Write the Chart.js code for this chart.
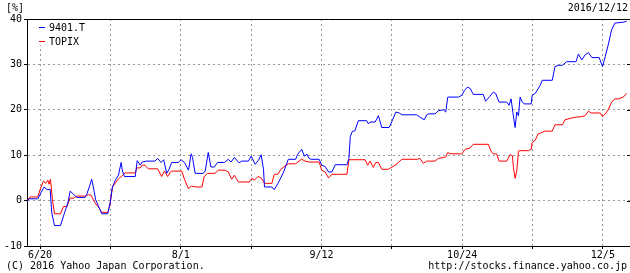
<!DOCTYPE html>
<html><head><meta charset="utf-8">
<script src="https://cdn.jsdelivr.net/npm/chart.js@4.4.0/dist/chart.umd.min.js"></script>
<style>
html,body{margin:0;padding:0;background:#fff;}
#wrap{position:relative;width:630px;height:273px;overflow:hidden;font-family:"DejaVu Sans Mono",monospace;font-size:10px;color:#000;}
canvas{position:absolute;left:0;top:0;}
.t{position:absolute;line-height:10px;white-space:pre;}
.box{position:absolute;left:28px;top:20px;width:60px;height:25px;background:#fff;}
.dash{position:absolute;width:6px;height:1px;}
</style></head><body>
<div id="wrap">
<canvas id="c" width="630" height="273"></canvas>
<div class="t" style="left:6px;top:3px">[%]</div>
<div class="t" style="right:2px;top:3px">2016/12/12</div>
<div class="box"></div>
<div class="dash" style="left:39px;top:27px;background:#0000ff"></div>
<div class="t" style="left:49px;top:23px">9401.T</div>
<div class="dash" style="left:39px;top:41px;background:#ff0000"></div>
<div class="t" style="left:49px;top:37px">TOPIX</div>
<div class="t" style="left:6px;top:261px">(C) 2016 Yahoo Japan Corporation.</div>
<div class="t" style="right:3px;top:261px">http://stocks.finance.yahoo.co.jp</div>
</div>
<script>
// x = calendar days after 2016/6/20
const tickDays = [0, 21, 42, 63, 84, 105, 126, 147, 168];
const tickLabels = ["6/20", "", "8/1", "", "9/12", "", "10/24", "", "12/5"];
const yTicks = [-10, 0, 10, 20, 30, 40];

// 9401.T (% change)
const stockDays = [
-3.7,-3.3,-0.7,1.2,2.1,3.0,3.5,4.3,6.1,7.3,
8.3,9.0,10.4,11.0,13.4,13.9,14.7,15.4,15.9,16.6,
17.9,18.4,20.2,20.9,21.6,22.6,23.4,24.2,24.6,25.2,
28.4,29.0,29.9,30.5,31.9,34.3,35.1,36.1,36.9,37.8,
38.5,39.3,41.3,42.1,43.1,44.3,45.1,45.5,46.3,48.7,
49.3,50.2,51.0,52.0,53.0,55.0,56.2,57.0,58.0,59.4,
60.2,62.2,63.0,64.2,65.2,66.0,66.7,67.0,69.2,69.9,
71.1,72.6,74.1,76.3,76.9,78.1,78.9,79.7,80.3,80.9,
83.3,84.1,85.1,86.1,87.1,88.1,91.6,92.2,92.6,93.2,
94.0,95.0,97.5,98.0,98.5,100.0,101.0,102.0,104.2,105.0,
106.2,107.2,108.0,112.4,113.4,114.7,115.4,116.0,117.9,118.9,
120.4,121.1,121.7,124.9,125.9,126.7,127.6,128.4,129.3,132.3,
133.0,134.3,135.3,136.0,137.0,139.3,140.0,140.6,141.2,141.8,
142.3,142.8,143.3,143.8,144.5,146.6,146.9,147.8,149.3,149.9,
152.9,153.7,154.7,155.9,157.2,160.0,160.7,161.7,162.7,163.7,
164.7,166.9,167.9,168.7,169.6,170.6,171.6,174.1,175.1];
const stockPct = [
0.0,0.4,0.4,3.0,2.4,2.5,-2.7,-5.5,-5.5,-2.7,
-0.5,2.1,1.1,0.7,0.7,1.3,3.0,4.7,3.0,0.2,
-2.0,-2.9,-2.9,-0.5,3.0,4.7,5.6,8.4,6.5,5.3,
5.3,8.8,7.8,8.5,8.7,8.7,9.3,8.4,9.0,6.0,
6.9,8.4,8.4,9.0,8.4,6.7,10.3,9.5,6.0,6.0,
6.5,10.6,7.4,7.4,8.4,8.4,9.1,8.5,9.5,8.3,
8.7,8.7,9.8,8.0,8.9,10.1,6.9,3.0,3.0,2.4,
3.9,6.1,9.1,9.1,10.2,11.3,9.8,10.2,9.3,9.1,
9.1,7.8,7.5,6.3,6.3,7.9,7.9,9.3,14.1,15.2,
15.4,17.6,17.6,16.9,17.3,17.3,18.7,16.1,16.1,17.4,
19.5,19.3,18.9,18.9,18.4,17.8,18.9,19.1,19.1,19.8,
20.0,19.5,22.8,22.8,23.2,24.3,25.0,24.7,23.4,23.4,
21.9,23.0,23.9,23.6,21.7,21.7,21.0,22.4,19.1,16.1,
19.5,18.7,22.8,21.9,21.3,21.3,23.2,23.6,25.4,26.5,
26.5,29.5,29.8,29.8,30.6,30.6,32.3,31.0,32.1,32.6,
31.5,31.5,29.5,31.7,34.3,37.6,39.1,39.3,39.5];

// TOPIX (% change)
const topixDays = [
-3.7,-3.0,-0.7,0,1.0,1.7,2.3,2.7,3.1,3.7,
4.3,6.1,7.0,8.0,9.0,9.9,11.0,13.6,14.4,15.2,
16.4,17.4,18.4,20.2,20.9,21.6,22.4,23.4,24.4,25.4,
28.4,28.9,29.9,30.5,31.3,32.3,35.1,36.3,37.1,38.1,
38.9,39.3,42.3,43.1,44.3,45.1,46.5,48.3,49.0,50.0,
51.3,52.2,53.2,55.2,56.2,57.2,58.0,59.2,62.4,63.2,
64.0,65.0,66.0,67.0,69.2,69.9,71.0,71.9,73.1,74.1,
76.3,77.3,78.1,79.1,80.3,83.3,84.1,85.1,86.1,87.1,
91.6,92.2,97.0,97.8,98.5,99.5,100.2,101.0,102.0,104.0,
106.0,107.0,108.0,112.7,113.4,114.4,115.4,116.0,117.9,118.9,
120.4,121.1,121.7,122.4,125.9,126.9,128.4,129.3,133.8,134.6,
135.3,136.3,137.0,139.3,140.3,141.0,141.3,141.8,142.3,142.8,
143.3,145.8,146.6,146.9,147.8,148.7,149.8,150.7,152.9,153.7,
155.9,156.7,158.7,160.2,161.7,162.7,163.7,164.5,167.2,167.9,
168.7,169.6,170.6,171.6,172.6,174.1,175.1];
const topixPct = [
0.2,0.8,0.8,2.4,4.3,3.8,4.5,3.6,4.7,0.2,
-2.9,-2.9,-1.3,-1.3,0.6,0.5,1.0,1.0,1.3,1.2,
-0.5,-1.4,-2.6,-2.6,-0.9,3.0,3.8,4.8,5.4,6.1,
6.1,7.2,7.2,7.8,7.8,7.0,7.0,5.3,6.5,5.3,
6.3,6.5,6.5,4.7,2.6,3.2,3.0,3.0,5.3,6.0,
6.0,6.0,6.7,6.7,6.3,4.7,5.6,4.1,4.1,4.9,
4.5,5.3,5.0,3.8,3.8,5.8,5.8,6.9,7.6,8.1,
8.1,8.7,9.1,8.7,8.5,8.5,6.7,6.3,5.0,5.8,
5.8,9.0,9.0,7.8,8.7,7.3,8.4,8.4,6.9,6.9,
7.8,8.4,9.1,9.1,9.3,8.2,8.7,8.7,8.7,9.3,
9.5,9.6,10.6,10.3,10.3,11.3,11.6,12.4,12.4,10.9,
10.3,10.3,8.7,8.7,10.1,9.9,7.3,4.9,6.5,10.9,
11.0,11.0,11.3,12.8,13.3,14.7,15.0,15.3,15.3,16.7,
16.7,17.8,18.2,18.4,18.5,18.7,19.7,19.3,19.3,18.5,
19.1,20.0,21.7,22.4,22.4,22.8,23.6];

const zip = (xs, ys) => xs.map((x, i) => ({x: x, y: ys[i]}));
const FONT = {family: "'DejaVu Sans Mono', monospace", size: 10};

const framePlugin = {
  id: 'frame',
  afterDraw(chart) {
    const {ctx, chartArea: a, scales} = chart;
    ctx.save();
    ctx.strokeStyle = '#000';
    ctx.lineWidth = 1;
    ctx.beginPath();
    ctx.moveTo(a.left, a.top + 0.5);
    ctx.lineTo(a.right, a.top + 0.5);
    scales.y.ticks.forEach(t => {
      const py = Math.round(scales.y.getPixelForValue(t.value)) + 0.5;
      ctx.moveTo(a.right - 3, py);
      ctx.lineTo(a.right, py);
    });
    ctx.stroke();
    ctx.restore();
  }
};

new Chart(document.getElementById('c'), {
  type: 'line',
  data: {
    datasets: [
      {label: '9401.T', data: zip(stockDays, stockPct), borderColor: '#0000ff', borderWidth: 1, pointRadius: 0, tension: 0, fill: false},
      {label: 'TOPIX', data: zip(topixDays, topixPct), borderColor: '#ff0000', borderWidth: 1, pointRadius: 0, tension: 0, fill: false}
    ]
  },
  options: {
    responsive: false,
    animation: false,
    devicePixelRatio: 1,
    layout: {padding: {top: 19, right: 0, bottom: 0, left: 0}},
    plugins: {legend: {display: false}, tooltip: {enabled: false}},
    scales: {
      x: {
        type: 'linear', min: -3.9, max: 176.1,
        afterBuildTicks: s => { s.ticks = tickDays.map(v => ({value: v})); },
        afterFit: s => { s.height = 27; },
        ticks: {
          autoSkip: false, maxRotation: 0, padding: 0, color: '#000', font: FONT,
          callback: v => { const i = tickDays.indexOf(v); return i >= 0 ? tickLabels[i] : ''; }
        },
        grid: {color: '#999', lineWidth: 1, tickLength: 3, tickColor: '#000'},
        border: {color: '#000', width: 1, dash: [2, 3]}
      },
      y: {
        min: -10, max: 40,
        afterBuildTicks: s => { s.ticks = yTicks.map(v => ({value: v})); },
        afterFit: s => { s.width = 27; },
        ticks: {padding: 2, color: '#000', font: FONT},
        grid: {color: '#999', lineWidth: 1, tickLength: 3, tickColor: '#000'},
        border: {color: '#000', width: 1, dash: [2, 3]}
      }
    }
  },
  plugins: [framePlugin]
});
</script>
</body></html>
